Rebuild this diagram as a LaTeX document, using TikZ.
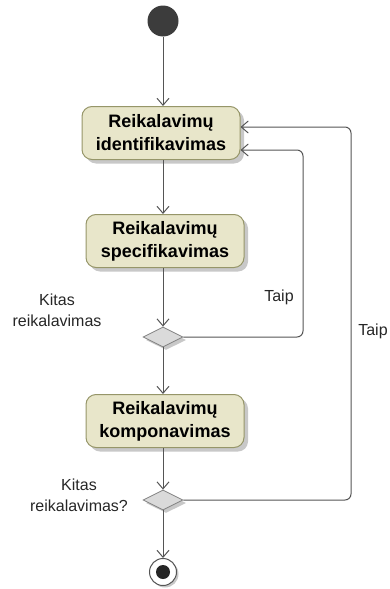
\documentclass[tikz,border=0pt]{standalone}
\usepackage{fontspec}
\setmainfont{Liberation Sans}
\usetikzlibrary{shapes.geometric,arrows.meta,shadows}
\definecolor{actfill}{RGB}{232, 230, 202}
\definecolor{actborder}{RGB}{150, 150, 105}
\definecolor{linegray}{RGB}{85, 85, 85}
\definecolor{decfill}{RGB}{218, 218, 218}
\definecolor{shadowgray}{RGB}{200, 200, 200}
\definecolor{startfill}{RGB}{60, 60, 60}

\tikzset{
    action/.style={rounded corners=10pt, fill=actfill, draw=actborder, line width=1pt,
        minimum width=158pt, minimum height=53pt, align=center,
        font=\fontsize{18}{23}\selectfont\bfseries,
        drop shadow={shadow xshift=4pt, shadow yshift=-4pt, fill=shadowgray, opacity=1}},
    decision/.style={diamond, aspect=2, fill=decfill, draw=gray, line width=0.8pt,
        minimum width=40pt, minimum height=20pt, inner sep=0pt,
        drop shadow={shadow xshift=3pt, shadow yshift=-3pt, fill=shadowgray, opacity=1}},
    flow/.style={draw=linegray, line width=1pt, -{Straight Barb[length=7pt, width=12pt]}},
    guard/.style={font=\fontsize{16}{21}\selectfont, align=center, text=black!85}
}

\begin{document}
\begin{tikzpicture}[x=1pt, y=-1pt]
    \useasboundingbox (0,0) rectangle (389,589);

    % start and end
    \node[circle, fill=startfill, minimum size=31pt, inner sep=0pt] (start) at (163,21) {};
    \node[circle, draw=linegray, fill=white, line width=1pt, minimum size=27pt, inner sep=0pt,
        drop shadow={shadow xshift=2pt, shadow yshift=-2pt, fill=shadowgray, opacity=1}] (finish) at (163,572) {};
    \fill[black!85] (finish) circle (7pt);

    % activities
    \node[action] (ident) at (161,133) {Reikalavimų\\identifikavimas};
    \node[action] (spec) at (165,241) {Reikalavimų\\specifikavimas};
    \node[decision] (dec1) at (163,337) {};
    \node[action] (komp) at (165,421) {Reikalavimų\\komponavimas};
    \node[decision] (dec2) at (163,500) {};

    % main flow
    \draw[flow] (start) -- (start |- ident.north);
    \draw[flow] (ident.south -| start) -- (start |- spec.north);
    \draw[flow] (spec.south -| start) -- (dec1);
    \draw[flow] (dec1) -- (start |- komp.north);
    \draw[flow] (komp.south -| start) -- (dec2);
    \draw[flow] (dec2) -- (finish);

    % loops back
    \draw[flow, rounded corners=6pt] (dec1.east) -- (303,337) -- (303,150) -- ([yshift=-17pt]ident.east);
    \draw[flow, rounded corners=6pt] (dec2.east) -- (351,500) -- (351,127) -- ([yshift=6pt]ident.east);

    % guards
    \node[guard] (taipa) at (279,297) {Taip};
    \node[guard] (taipb) at (373,331) {Taip};
    \node[guard] (kitasa) at (57,310) {Kitas\\reikalavimas};
    \node[guard] (kitasb) at (79,495) {Kitas\\reikalavimas?};
\end{tikzpicture}
\end{document}
